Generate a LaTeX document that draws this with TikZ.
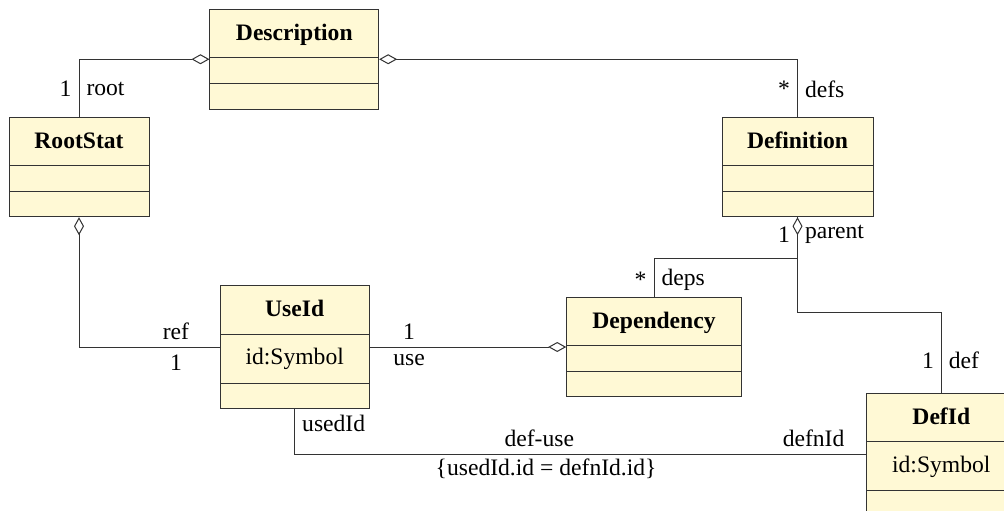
\documentclass[tikz,border=0pt]{standalone}
\usepackage{fontspec}
\setmainfont{Liberation Serif}
\usetikzlibrary{shapes.multipart,arrows.meta,positioning}
\definecolor{classfill}{HTML}{FFF9D5}
\definecolor{classline}{HTML}{333333}
\tikzset
{
    umlclass/.style = {rectangle split, rectangle split parts=3, draw=classline, fill=classfill, line width=1pt, inner xsep=0pt, inner ysep=0pt, anchor=north, font=\fontsize{23.6}{28}\selectfont},
    assoc/.style    = {draw=classline, line width=1pt},
    aggr/.style     = {assoc, {Diamond[fill=white, length=18pt, width=10pt]}-},
    aggrend/.style  = {assoc, -{Diamond[fill=white, length=18pt, width=10pt]}},
    role/.style     = {font=\fontsize{23.6}{28}\selectfont, inner sep=7pt}
}

\begin{document}
\begin{tikzpicture}[x=1pt, y=-1pt]

	 \newcommand\classname[2]{\makebox[#1]{\rule[-17.2pt]{0pt}{47.5pt}\textbf{#2}}}
	 \newcommand\attrpart[1]{\rule[-18pt]{0pt}{48pt}#1}
	 \newcommand\emptypart{\rule{0pt}{24.5pt}}

	 \useasboundingbox (0, 0) rectangle (1004, 511);

	 \node (desc)   [umlclass] at (294.3, 9)       {\classname{168.7pt}{Description}\nodepart{two}\emptypart\nodepart{three}\emptypart};
	 \node (root)   [umlclass] at (79, 116.7)      {\classname{140pt}{RootStat}\nodepart{two}\emptypart\nodepart{three}\emptypart};
	 \node (def)    [umlclass] at (797.5, 116.7)   {\classname{151pt}{Definition}\nodepart{two}\emptypart\nodepart{three}\emptypart};
	 \node (use)    [umlclass] at (294.7, 285)     {\classname{149.3pt}{UseId}\nodepart{two}\attrpart{id:Symbol}\nodepart{three}\emptypart};
	 \node (dep)    [umlclass] at (654, 296.7)     {\classname{174.6pt}{Dependency}\nodepart{two}\emptypart\nodepart{three}\emptypart};
	 \node (defid)  [umlclass] at (941.3, 392.7)   {\classname{149.3pt}{DefId}\nodepart{two}\attrpart{id:Symbol}\nodepart{three}\emptypart};

	 % aggregations
	 \draw[aggr] (desc.west) -| node[role, pos=0.76, left] {1} node[role, pos=0.76, right] {root} (root.north);
	 \draw[aggr] (desc.east) -| node[role, pos=0.76, left] {*} node[role, pos=0.76, right] {defs} (def.north);
	 \draw[aggr] (root.south) |- node[role, pos=0.845, above] {ref} node[role, pos=0.845, below] {1} (use.west);
	 \draw[aggrend] (use.east) -- node[role, pos=0.2, above] {1} node[role, pos=0.2, below] {use} (use.east -| dep.west);

	 % definition parts
	 \draw[assoc] (def.south) -- ++(0, 95) -| node[role, pos=0.8, left] {1} node[role, pos=0.8, right] {def} (defid.north);
	 \draw[aggr] (def.south) -- node[role, pos=0.43, left] {1} node[role, pos=0.43, right] {parent} ++(0, 41)
	    -| node[role, pos=0.775, left] {*} node[role, pos=0.775, right] {deps} (dep.north);

	 % def-use link
	 \draw[assoc] (use.south) |- node[role, pos=0.155, right] {usedId}
	    node[role, pos=0.714, above] {def-use}
	    node[role, pos=0.72, below, inner sep=4pt] {\{usedId.id = defnId.id\}}
	    node[role, pos=0.954, above] {defnId} (defid.west);
\end{tikzpicture}
\end{document}
